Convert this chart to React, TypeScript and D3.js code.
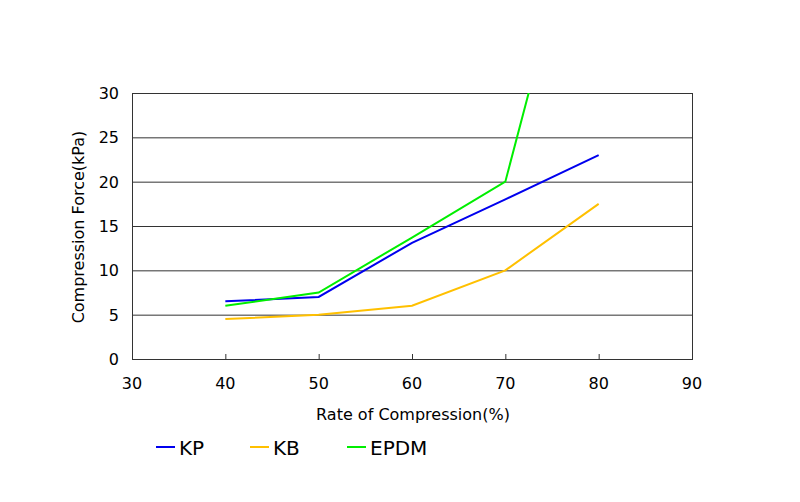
import * as d3 from "d3";

const rates = [40, 50, 60, 70, 80];
const kpValues = [6.5, 7, 13.1, 18, 23];
const kbValues = [4.5, 5, 6, 10, 17.5];
const epdmValues = [6, 7.5, 13.7, 20, 60];

const xTicks = [30, 40, 50, 60, 70, 80, 90];
const yTicks = [0, 5, 10, 15, 20, 25, 30];

const series = [
  { name: "KP", color: "#0000ee", values: kpValues },
  { name: "KB", color: "#ffc000", values: kbValues },
  { name: "EPDM", color: "#00ee00", values: epdmValues },
];

const left = 132;
const right = 692;
const top = 93;
const bottom = 359;
const font = "'DejaVu Sans', Verdana, sans-serif";

export default function App() {
  const x = d3.scaleLinear().domain([30, 90]).range([left, right]);
  const y = d3.scaleLinear().domain([0, 30]).range([bottom, top]);

  const line = d3
    .line<number>()
    .x((_, i) => x(rates[i]))
    .y((d) => y(d));

  const legendX = [156, 250, 347];

  return (
    <svg
      width={800}
      height={502}
      style={{ position: "absolute", left: 0, top: 0, background: "#fff" }}
    >
      <defs>
        <clipPath id="plot">
          <rect x={left} y={top} width={right - left} height={bottom - top} />
        </clipPath>
      </defs>

      {/* grid */}
      {yTicks.map((t) => (
        <line
          key={t}
          x1={left}
          x2={right}
          y1={y(t) + 0.5}
          y2={y(t) + 0.5}
          stroke="#333"
          strokeWidth={1}
        />
      ))}
      <line x1={left + 0.5} x2={left + 0.5} y1={top} y2={bottom + 1} stroke="#333" />
      <line x1={right + 0.5} x2={right + 0.5} y1={top} y2={bottom + 1} stroke="#333" />

      {/* bottom ticks */}
      {xTicks.slice(1, -1).map((t) => (
        <line
          key={t}
          x1={x(t) + 0.5}
          x2={x(t) + 0.5}
          y1={bottom}
          y2={bottom - 5}
          stroke="#333"
        />
      ))}

      {/* lines */}
      <g clipPath="url(#plot)">
        {series.map((s) => (
          <path
            key={s.name}
            d={line(s.values) || ""}
            fill="none"
            stroke={s.color}
            strokeWidth={2}
          />
        ))}
      </g>

      {/* tick labels */}
      {yTicks.map((t) => (
        <text
          key={t}
          x={119}
          y={y(t) + 6}
          textAnchor="end"
          fontFamily={font}
          fontSize={16}
          fill="#000"
        >
          {t}
        </text>
      ))}
      {xTicks.map((t) => (
        <text
          key={t}
          x={x(t)}
          y={389}
          textAnchor="middle"
          fontFamily={font}
          fontSize={16}
          fill="#000"
        >
          {t}
        </text>
      ))}

      {/* axis titles */}
      <text
        x={413}
        y={420}
        textAnchor="middle"
        fontFamily={font}
        fontSize={16}
        fill="#000"
      >
        Rate of Compression(%)
      </text>
      <text
        transform={`translate(84,227) rotate(-90)`}
        textAnchor="middle"
        fontFamily={font}
        fontSize={16}
        fill="#000"
      >
        Compression Force(kPa)
      </text>

      {/* legend */}
      {series.map((s, i) => (
        <g key={s.name}>
          <line
            x1={legendX[i]}
            x2={legendX[i] + 19}
            y1={447}
            y2={447}
            stroke={s.color}
            strokeWidth={2}
          />
          <text
            x={legendX[i] + 23}
            y={455}
            fontFamily={font}
            fontSize={20}
            fill="#000"
          >
            {s.name}
          </text>
        </g>
      ))}
    </svg>
  );
}
